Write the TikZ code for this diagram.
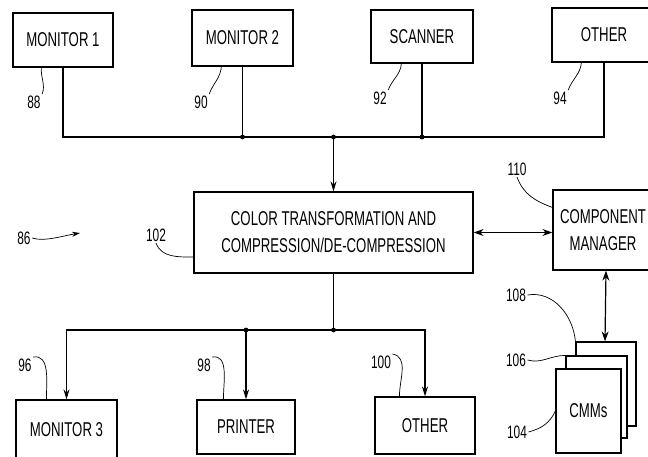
\documentclass[tikz,border=0pt]{standalone}
\usepackage{fontspec}
\setmainfont[FakeStretch=0.66]{Liberation Sans}
\usetikzlibrary{arrows.meta,positioning,calc}

\begin{document}
\begin{tikzpicture}[
			x=1pt, y=1pt,
			line width=1.2pt,
			block/.style={draw, rectangle, fill=white, font=\fontsize{20}{27}\selectfont, align=center, inner sep=0pt},
			refnum/.style={font=\fontsize{18}{18}\selectfont, inner sep=1pt},
			leader/.style={line width=0.7pt},
			flow/.style={-{Stealth[length=10pt,width=6pt]}},
			both/.style={{Stealth[length=10pt,width=7pt]}-{Stealth[length=10pt,width=7pt]}}
			]
			
			\useasboundingbox (0,0) rectangle (648,-456);
			\clip (0,0) rectangle (648,-456);
			
			% Input devices
			\node[block, minimum width=100, minimum height=54] (mon1) at (63,-40) {MONITOR 1};
			\node[block, minimum width=101, minimum height=56] (mon2) at (242.5,-38) {MONITOR 2};
			\node[block, minimum width=102, minimum height=53] (scan) at (422,-36.5) {SCANNER};
			\node[block, minimum width=104, minimum height=54] (oth1) at (604,-35) {OTHER};
			
			% Transformation and component manager
			\node[block, minimum width=279, minimum height=81] (ctf) at (333.5,-232.5) {COLOR TRANSFORMATION AND\\ COMPRESSION/DE-COMPRESSION};
			\node[block, minimum width=100, minimum height=80] (cm) at (603,-230) {COMPONENT\\ MANAGER};
			
			% Output devices
			\node[block, minimum width=101, minimum height=60] (mon3) at (66.5,-430) {MONITOR 3};
			\node[block, minimum width=98, minimum height=54] (prn) at (246,-427) {PRINTER};
			\node[block, minimum width=100, minimum height=57] (oth2) at (425,-425.5) {OTHER};
			
			% CMM stack
			\node[block, minimum width=60, minimum height=84] (cmmback) at (606,-384) {};
			\node[block, minimum width=61, minimum height=82] (cmmmid) at (596.5,-397) {};
			\node[block, minimum width=65, minimum height=84] (cmmfront) at (588.5,-411) {CMMs};
			
			% Reference numerals
			\node[refnum] (l88) at (34,-102) {88};
			\node[refnum] (l90) at (201,-102) {90};
			\node[refnum] (l92) at (380,-98) {92};
			\node[refnum] (l94) at (560,-98) {94};
			\node[refnum] (l86) at (24,-238) {86};
			\node[refnum] (l102) at (156,-235) {102};
			\node[refnum] (l110) at (517,-169) {110};
			\node[refnum] (l108) at (516,-295) {108};
			\node[refnum] (l106) at (516,-360) {106};
			\node[refnum] (l104) at (517,-432) {104};
			\node[refnum] (l96) at (25,-365) {96};
			\node[refnum] (l98) at (204,-365) {98};
			\node[refnum] (l100) at (381,-362) {100};
			
			% Bus junctions
			\coordinate (jtop) at (333.5,-137);
			\coordinate (jbot) at (333.5,-330);
			\coordinate (p86) at (80,-233);
			
			% Input bus
			\draw (mon1.south) |- (jtop);
			\draw (oth1.south) |- (jtop);
			\draw (mon2.south) -- (mon2.south |- jtop);
			\draw (scan.south) -- (scan.south |- jtop);
			\fill (mon2.south |- jtop) circle (2.4);
			\fill (scan.south |- jtop) circle (2.4);
			\fill (jtop) circle (2.4);
			\draw[flow] (jtop) -- (ctf.north);
			
			% Output bus
			\draw (ctf.south) -- (jbot);
			\draw[flow] (jbot) -| (mon3.north);
			\draw[flow] (jbot) -| (oth2.north);
			\draw[flow] (jbot -| prn.north) -- (prn.north);
			\fill (jbot) circle (2.4);
			\fill (jbot -| prn.north) circle (2.4);
			
			% Component manager links
			\draw[both] (ctf.east) -- (ctf.east -| cm.west);
			\draw[both] (cm.south -| cmmback.north) -- (cmmback.north -| 605,0);
			
			% Leaders
			\draw[leader] (l88.north east) to[out=70,in=-95] ([xshift=29]mon1.south west);
			\draw[leader] (l90.north east) to[out=70,in=-95] ([xshift=30]mon2.south west);
			\draw[leader] (l92.north east) to[out=70,in=-95] ([xshift=31]scan.south west);
			\draw[leader] (l94.north east) to[out=70,in=-95] ([xshift=30]oth1.south west);
			\draw[leader] (l96.north east) to[out=10,in=90] ([xshift=31]mon3.north west);
			\draw[leader] (l98.north east) to[out=10,in=90] ([xshift=27]prn.north west);
			\draw[leader] (l100.north east) to[out=-10,in=90] ([xshift=25]oth2.north west);
			\draw[leader] (l102.south) to[out=-70,in=180] ([yshift=-24.5]ctf.west);
			\draw[leader] (l110.south) to[out=-70,in=160] ([yshift=-18]cm.north west);
			\draw[leader] (l108.east) to[out=10,in=95] (cmmback.north west);
			\draw[leader] (l106.east) to[out=-15,in=180] (cmmmid.north west);
			\draw[leader] (l104.east) to[out=15,in=-115] (cmmfront.west);
			\draw[leader, -{Stealth[length=8pt,width=5pt]}] (l86.east) .. controls +(12,-4) and +(-18,-3) .. (p86);
			
		\end{tikzpicture}
\end{document}
